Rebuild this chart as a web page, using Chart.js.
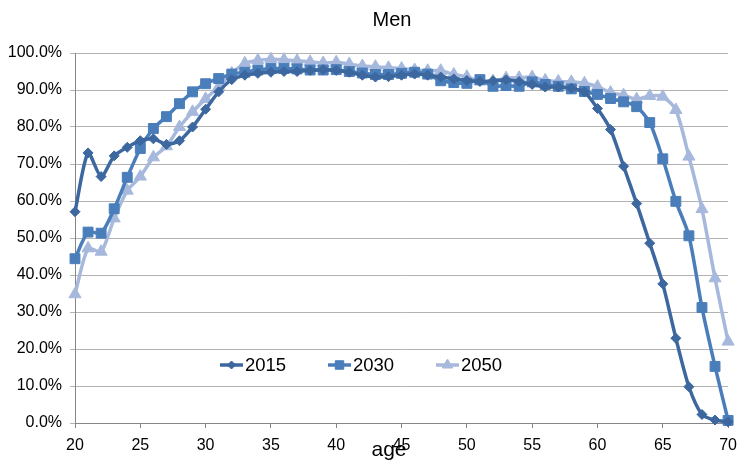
<!DOCTYPE html>
<html>
<head>
<meta charset="utf-8">
<script src="https://cdn.jsdelivr.net/npm/chart.js@4.4.1/dist/chart.umd.min.js"></script>
<style>
  html, body { margin: 0; padding: 0; background: #ffffff; }
  #wrap { width: 745px; height: 461px; position: relative; }
</style>
</head>
<body>
<div id="wrap"><canvas id="chart" width="745" height="461"></canvas></div>
<script>
// Participation rate of men by single year of age (%)
const ages = [20, 21, 22, 23, 24, 25, 26, 27, 28, 29,
              30, 31, 32, 33, 34, 35, 36, 37, 38, 39,
              40, 41, 42, 43, 44, 45, 46, 47, 48, 49,
              50, 51, 52, 53, 54, 55, 56, 57, 58, 59,
              60, 61, 62, 63, 64, 65, 66, 67, 68, 69, 70];

const rate2015 = [57.1, 73.0, 66.6, 72.2, 74.5, 76.3, 76.8, 75.3, 76.3, 80.0,
                  84.8, 89.5, 92.8, 94.0, 94.5, 94.8, 95.0, 95.0, 95.3, 95.5,
                  95.3, 94.8, 94.0, 93.5, 93.6, 94.0, 94.3, 94.0, 93.5, 93.0,
                  92.6, 92.3, 92.5, 92.8, 92.3, 91.5, 90.8, 90.8, 90.5, 89.5,
                  85.0, 79.3, 69.4, 59.3, 48.6, 37.6, 22.9, 9.8, 2.3, 0.8, 0.3];

const rate2030 = [44.4, 51.6, 51.3, 57.9, 66.4, 74.2, 79.6, 82.8, 86.3, 89.5,
                  91.7, 93.1, 94.3, 94.8, 95.4, 95.8, 95.8, 95.7, 95.4, 95.4,
                  95.5, 95.0, 94.6, 94.2, 94.2, 94.5, 94.8, 94.3, 92.5, 92.0,
                  91.8, 92.8, 91.0, 91.2, 91.0, 92.2, 91.5, 91.0, 90.3, 89.6,
                  88.8, 87.7, 86.8, 85.5, 81.2, 71.4, 59.9, 50.6, 31.2, 15.3, 0.7];

const rate2050 = [34.8, 47.2, 46.3, 55.3, 62.8, 66.6, 71.8, 74.8, 80.0, 84.1,
                  87.6, 90.9, 94.5, 97.2, 98.0, 98.3, 98.2, 97.9, 97.6, 97.3,
                  97.5, 97.0, 96.5, 96.3, 96.0, 95.8, 95.4, 95.2, 95.2, 94.2,
                  93.6, 92.3, 92.4, 93.2, 93.3, 93.5, 92.6, 92.3, 92.2, 91.8,
                  90.9, 89.3, 88.6, 87.5, 88.4, 88.2, 84.6, 72.0, 57.8, 39.1, 22.0];

const seriesNames = ['2015', '2030', '2050'];
const chartTitle = 'Men';
const xAxisTitle = 'age';

const FONT = "'Liberation Sans', Arial, sans-serif";

function toPoints(values) {
  return values.map((v, i) => ({ x: ages[i], y: v }));
}

function series(label, values, color, style, radius) {
  return {
    label: label,
    data: toPoints(values),
    borderColor: color,
    backgroundColor: color,
    pointBackgroundColor: color,
    pointBorderColor: color,
    borderWidth: 3.5,
    pointStyle: style,
    pointRadius: radius,
    pointHoverRadius: radius,
    pointBorderWidth: 1,
    tension: 0.25,
    clip: false
  };
}

// Title, in-plot legend (short line + marker + label) and the axis title
const annotations = {
  id: 'annotations',
  afterDraw(chart, args, opts) {
    const ctx = chart.ctx;
    ctx.save();
    ctx.fillStyle = '#000000';
    ctx.font = opts.titleSize + 'px ' + FONT;
    ctx.textAlign = 'center';
    ctx.textBaseline = 'middle';
    ctx.fillText(chartTitle, opts.titleX, opts.titleY);

    chart.data.datasets.forEach((ds, i) => {
      const x0 = opts.legendX[i];
      const y = opts.legendY;
      ctx.strokeStyle = ds.borderColor;
      ctx.lineWidth = ds.borderWidth;
      ctx.beginPath();
      ctx.moveTo(x0, y);
      ctx.lineTo(x0 + opts.lineLength, y);
      ctx.stroke();
      ctx.fillStyle = ds.pointBackgroundColor;
      ctx.strokeStyle = ds.pointBorderColor;
      ctx.lineWidth = 1;
      Chart.helpers.drawPoint(ctx, {
        pointStyle: ds.pointStyle,
        radius: ds.pointRadius - 1,
        borderWidth: 1,
        rotation: 0
      }, x0 + opts.lineLength / 2, y);
      ctx.fillStyle = '#000000';
      ctx.font = opts.legendSize + 'px ' + FONT;
      ctx.textAlign = 'left';
      ctx.textBaseline = 'middle';
      ctx.fillText(ds.label, x0 + opts.lineLength + 2, y + 1);
    });

    // axis title sits low, partly over the tick labels
    ctx.fillStyle = '#000000';
    ctx.font = opts.axisTitleSize + 'px ' + FONT;
    ctx.textAlign = 'center';
    ctx.textBaseline = 'alphabetic';
    ctx.fillText(xAxisTitle, opts.axisTitleX, opts.axisTitleBaseline);
    ctx.restore();
  }
};

new Chart(document.getElementById('chart'), {
  type: 'line',
  data: {
    datasets: [
      series(seriesNames[0], rate2015, '#3C679F', 'rectRot', 5),
      series(seriesNames[1], rate2030, '#4A7EBB', 'rect', 7),
      series(seriesNames[2], rate2050, '#A6B9DC', 'triangle', 7)
    ]
  },
  options: {
    responsive: false,
    animation: false,
    devicePixelRatio: 1,
    layout: { padding: { left: 0, right: 11, top: 53, bottom: 0 } },
    plugins: {
      legend: { display: false },
      tooltip: { enabled: false },
      title: { display: false },
      annotations: {
        titleSize: 20,
        titleX: 392,
        titleY: 20,
        legendX: [220, 328, 436],
        legendY: 365,
        lineLength: 23,
        legendSize: 18.5,
        axisTitleSize: 21,
        axisTitleX: 389,
        axisTitleBaseline: 456
      }
    },
    scales: {
      x: {
        type: 'linear',
        min: 20,
        max: 70,
        afterFit(scale) { scale.height = 38; },
        ticks: {
          stepSize: 5,
          color: '#000000',
          padding: 8,
          maxRotation: 0,
          font: { family: FONT, size: 16 }
        },
        grid: {
          drawOnChartArea: false,
          drawTicks: true,
          tickLength: 5,
          color: '#868686'
        },
        border: { display: true, color: '#868686', width: 1 }
      },
      y: {
        min: 0,
        max: 100,
        afterFit(scale) {
          scale.width = 75;
          scale.paddingTop = 0;
          scale.paddingBottom = 0;
        },
        ticks: {
          stepSize: 10,
          color: '#000000',
          padding: 8,
          font: { family: FONT, size: 16 },
          callback: (v) => v.toFixed(1) + '%'
        },
        grid: {
          color: '#B3B3B3',
          lineWidth: 1,
          drawTicks: true,
          tickLength: 5
        },
        border: { display: true, color: '#868686', width: 1 }
      }
    }
  },
  plugins: [annotations]
});
</script>
</body>
</html>
